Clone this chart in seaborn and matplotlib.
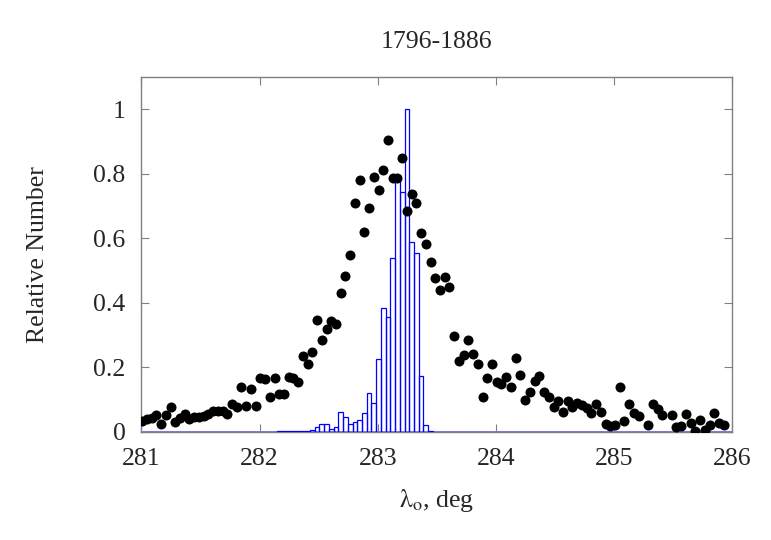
import numpy as np
import pandas as pd
import matplotlib
matplotlib.use("Agg")
import matplotlib.pyplot as plt
import seaborn as sns

# solar longitude grid (deg): dot positions = histogram bin centres
lam_start = 281.006
lam_step = 0.04
n_bins = 126
lam_centres = lam_start + lam_step * np.arange(n_bins)
bin_edges = list(lam_start - lam_step / 2 + lam_step * np.arange(n_bins + 1))

# observed relative numbers (black dots), nan = no data in that bin
dot_values = [
    0.035, 0.039, 0.043, 0.052, 0.025, 0.053, 0.079, 0.030, 0.043, 0.056,
    0.040, 0.046, 0.047, 0.051, 0.056, 0.064, 0.065, 0.064, 0.057, 0.088,
    0.076, 0.138, 0.081, 0.134, 0.081, 0.166, 0.164, 0.107, 0.166, 0.117,
    0.117, 0.170, 0.168, 0.154, 0.236, 0.212, 0.248, 0.346, 0.285, 0.320,
    0.343, 0.336, 0.430, 0.484, 0.549, 0.709, 0.782, 0.620, 0.693, 0.790,
    0.751, 0.813, 0.904, 0.789, 0.789, 0.848, 0.686, 0.739, 0.710, 0.618,
    0.584, 0.527, 0.476, 0.440, 0.480, 0.449, 0.299, 0.220, 0.240, 0.285,
    0.243, 0.210, 0.108, 0.168, 0.212, 0.155, 0.148, 0.172, 0.140, 0.229,
    0.176, 0.100, 0.124, 0.159, 0.174, 0.124, 0.110, 0.077, 0.096, 0.062,
    0.096, 0.079, 0.091, 0.085, 0.073, 0.059, 0.088, 0.062, 0.025, 0.018,
    0.022, 0.139, 0.034, 0.087, 0.058, 0.050, np.nan, 0.023, 0.088, 0.070,
    0.052, np.nan, 0.054, 0.016, 0.018, 0.057, 0.028, 0.003, 0.036, 0.007,
    0.021, 0.059, 0.029, 0.021,
]

# model histogram (blue outline bars), one value per bin
hist_core = [
    0.002, 0.002, 0.003, 0.002, 0.003, 0.004, 0.004,
    0.005, 0.014, 0.024, 0.026, 0.010, 0.014, 0.063, 0.045, 0.024, 0.031,
    0.036, 0.060, 0.122, 0.091, 0.225, 0.385, 0.357, 0.538, 0.791, 0.745,
    1.000, 0.589, 0.556, 0.175, 0.023, 0.003,
]
hist_values = [0.0] * 29 + hist_core + [0.0] * (n_bins - 29 - len(hist_core))

hist_df = pd.DataFrame({'lam': lam_centres, 'w': hist_values})
dot_df = pd.DataFrame({'lam': lam_centres[:len(dot_values)], 'rel': dot_values})

sns.set_style("ticks")
plt.rcParams['font.family'] = ['Liberation Serif', 'DejaVu Serif']
plt.rcParams['mathtext.fontset'] = 'stix'

fig = plt.figure(figsize=(7.71, 5.40), dpi=100)
ax = fig.add_axes([0.1835, 0.2, 0.7665, 0.657])

# histogram above the grey frame; the empty bins show as a blue line at zero
sns.histplot(data=hist_df, x='lam', weights='w', bins=bin_edges,
             fill=False, color='blue', linewidth=0.9, ax=ax, zorder=2.6)
ax.axhline(0, color='#8a8ae0', linewidth=1.4, zorder=2.55)
sns.scatterplot(data=dot_df, x='lam', y='rel', color='black',
                s=52, linewidth=0, ax=ax, zorder=3)

ax.set_xlim(281, 286)
ax.set_ylim(0, 1.1)
ax.set_xticks([281, 282, 283, 284, 285, 286])
ax.set_yticks([0, 0.2, 0.4, 0.6, 0.8, 1.0])
ax.set_yticklabels(['0', '0.2', '0.4', '0.6', '0.8', '1'])

for side in ['left', 'right', 'top', 'bottom']:
    ax.spines[side].set_visible(True)
    ax.spines[side].set_color('#808080')
    ax.spines[side].set_linewidth(1.0)
ax.tick_params(direction='in', top=True, right=True, length=6,
               color='#808080', labelsize=18.5, pad=11.5)

ax.set_title('1796-1886', fontsize=18.5, pad=21)
ax.set_ylabel('Relative Number', fontsize=18.5, labelpad=32)
ax.set_xlabel(r'$\mathrm{\lambda_o}$, deg', fontsize=18.5, labelpad=12)

fig.savefig('out.png', dpi=100)
